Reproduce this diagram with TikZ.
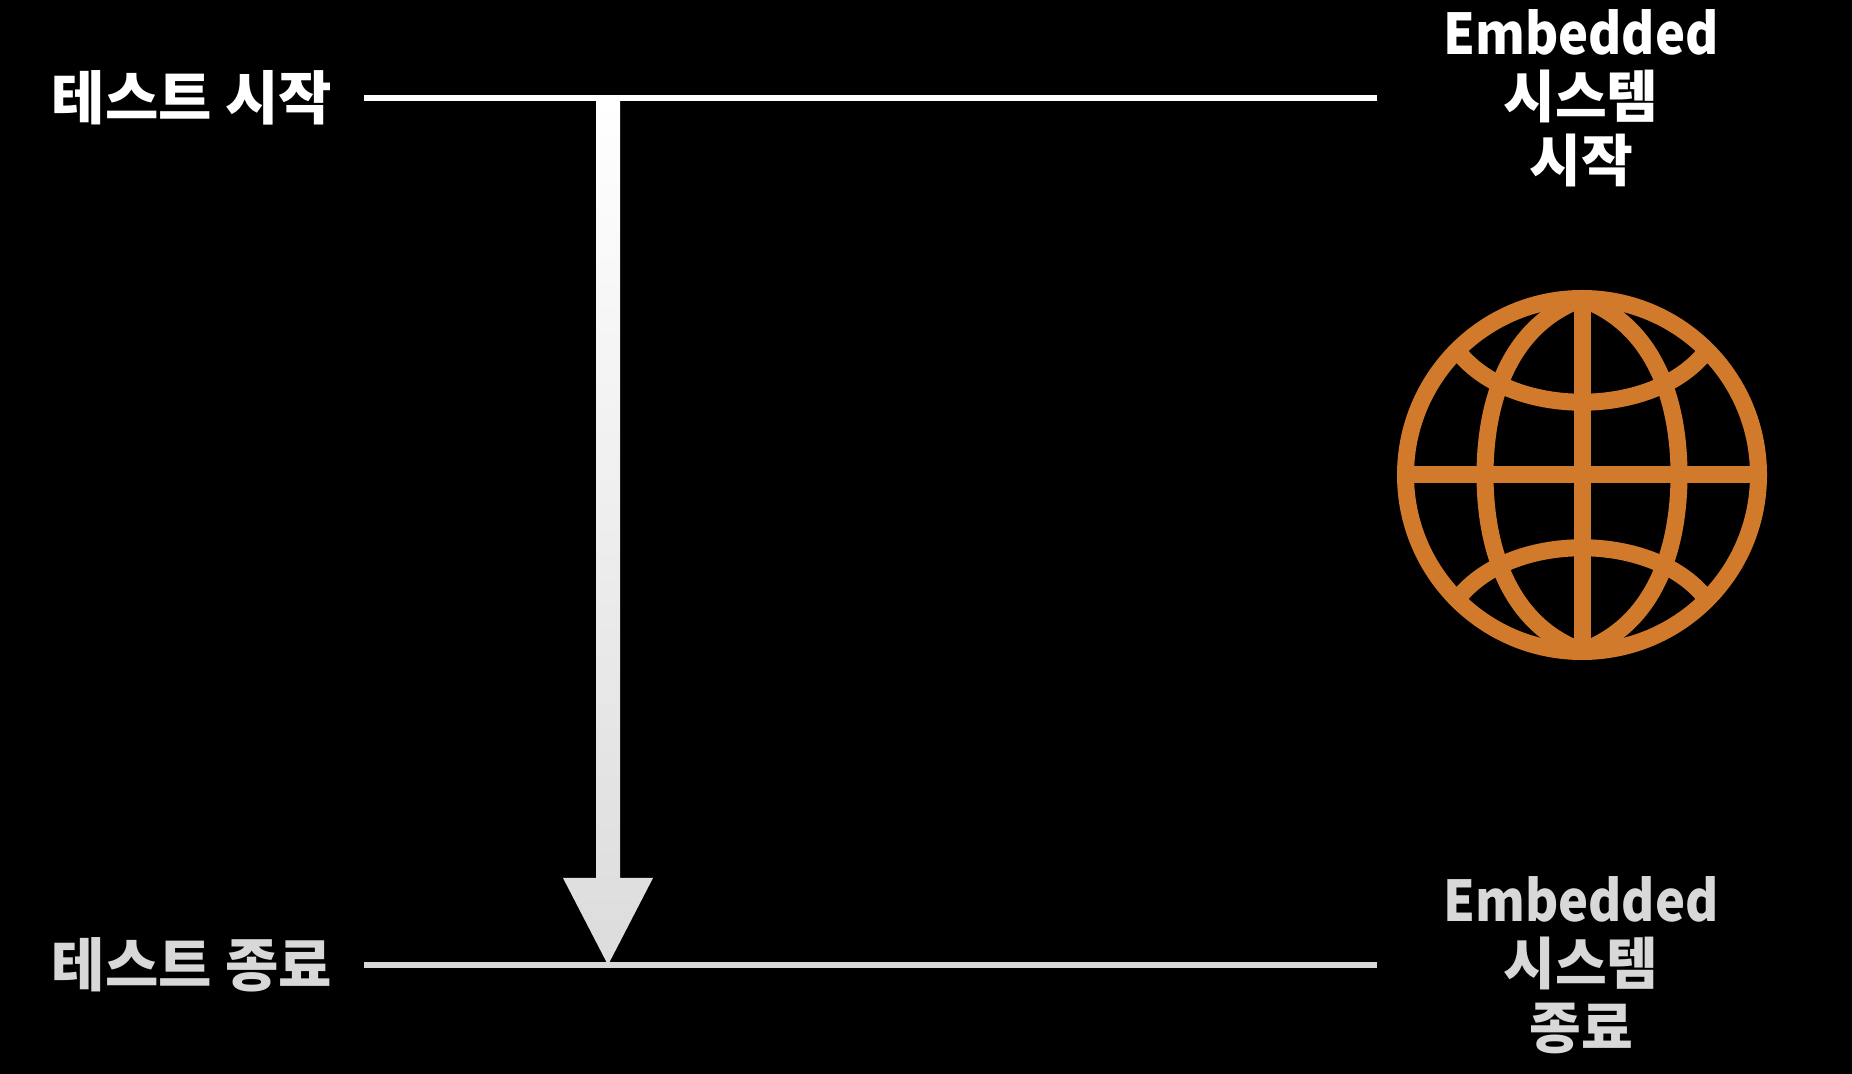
\documentclass[tikz,border=0pt]{standalone}
\usepackage{fontspec}
\setmainfont{Noto Sans CJK KR}[BoldFont={Noto Sans CJK KR Black}]
\newfontfamily\latinfont{Noto Sans CJK KR Black}[BoldFont={Noto Sans CJK KR Black}, FakeStretch=0.9, BoldFeatures={FakeStretch=0.9}]
\definecolor{globeorange}{HTML}{D27A2C}
\definecolor{endgrey}{HTML}{D8D8D8}
\tikzset{
    toplabel/.style={text=white, font=\fontsize{16}{18}\selectfont\bfseries, inner sep=0pt, align=center},
    endlabel/.style={toplabel, text=endgrey},
    sidelabel/.style={font=\fontsize{16.5}{18}\selectfont\bfseries},
    rule/.style={color=white, line width=0.065cm},
    endrule/.style={color=endgrey, line width=0.065cm},
    globeline/.style={color=globeorange, line width=0.17cm}
}
\begin{document}
\begin{tikzpicture}[x=0.01cm, y=-0.01cm]

    \useasboundingbox (0,0) rectangle (1852,1074);
    \fill[black] (0,0) rectangle (1852,1074);

    % start and end rules
    \coordinate (startleft) at (364,98);
    \coordinate (startright) at (1377,98);
    \coordinate (endleft) at (364,965);
    \coordinate (endright) at (1377,965);
    \draw[rule] (startleft) -- (startright);
    \draw[endrule] (endleft) -- (endright);

    % labels
    \node[toplabel, sidelabel] (teststart) at (192,98) {테스트 시작};
    \node[endlabel, sidelabel] (testend) at (192,965) {테스트 종료};
    \node[toplabel] (systemstart) at (1581,98) {{\latinfont Embedded}\\시스템\\시작};
    \node[endlabel] (systemend) at (1581,965) {{\latinfont Embedded}\\시스템\\종료};

    % arrow
    \coordinate (arrowtop) at (608,98);
    \shade[top color=white, middle color=white, bottom color=endgrey!90!white]
        (arrowtop) ++(-12,0) -- ++(24,0) -- ++(0,780) -- ++(33,0)
        -- (608,965) -- (563,878) -- (596,878) -- cycle;

    % globe
    \coordinate (globe) at (1582,475);
    \draw[globeline] (globe) circle[radius=176.5];
    \draw[globeline] (globe) ++(-176,0) -- ++(352,0);
    \draw[globeline] (globe) ++(0,-176) -- ++(0,352);
    \draw[globeline] (1582,299) .. controls (1510,325) and (1485,400) .. (1485,475)
        .. controls (1485,550) and (1510,625) .. (1582,651);
    \draw[globeline] (1582,299) .. controls (1654,325) and (1679,400) .. (1679,475)
        .. controls (1679,550) and (1654,625) .. (1582,651);
    \draw[globeline] (1456,349) .. controls (1508,420) and (1656,420) .. (1708,349);
    \draw[globeline] (1456,601) .. controls (1508,530) and (1656,530) .. (1708,601);

\end{tikzpicture}
\end{document}
